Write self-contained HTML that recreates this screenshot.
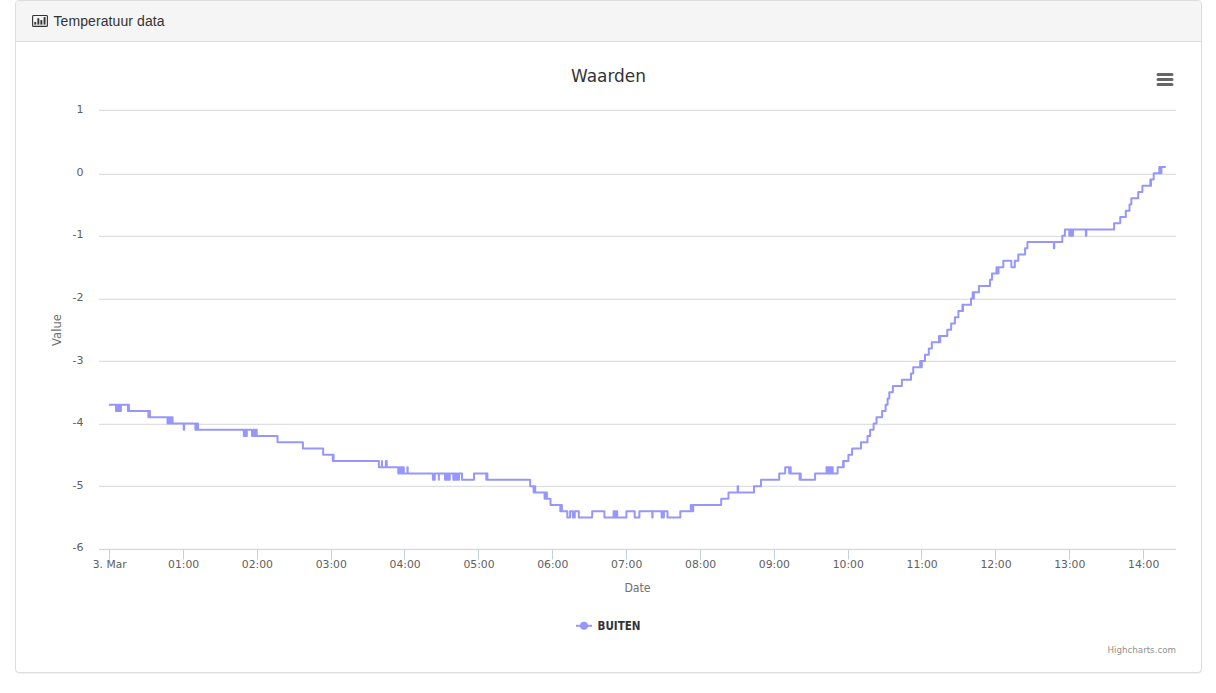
<!DOCTYPE html>
<html lang="nl">
<head>
<meta charset="utf-8">
<title>Temperatuur data</title>
<style>
html,body{margin:0;padding:0;background:#fff;}
body{width:1216px;height:693px;overflow:hidden;position:relative;font-family:"Liberation Sans",Arial,sans-serif;font-size:14px;line-height:20px;color:#333;}
.panel{position:absolute;left:15px;top:0;width:1187px;height:673px;box-sizing:border-box;background:#fff;border:1px solid #ddd;border-radius:4px;box-shadow:0 1px 1px rgba(0,0,0,.05);}
.heading{box-sizing:border-box;height:41px;padding:10px 15px;background:#f5f5f5;border-bottom:1px solid #ddd;border-radius:3px 3px 0 0;color:#333;white-space:nowrap;}
.ico{position:absolute;left:16px;top:14px;}
.heading span{position:absolute;left:37.4px;top:10px;letter-spacing:0.1px;}
.pbody{position:relative;height:630px;}
.chart{position:absolute;left:15px;top:15px;font-family:"DejaVu Sans","Liberation Sans",sans-serif;font-size:11px;}
</style>
</head>
<body>
<div class="panel">
<div class="heading"><svg class="ico" width="16" height="12" viewBox="0 0 16 12"><rect x="0.6" y="0.5" width="14.8" height="10.9" rx="1" ry="1" fill="none" stroke="#333" stroke-width="1.1"/><rect x="2.3" y="7.0" width="1.9" height="2.6" fill="#333"/><rect x="5.4" y="3.2" width="1.9" height="6.4" fill="#333"/><rect x="8.4" y="5.1" width="1.9" height="4.5" fill="#333"/><rect x="11.6" y="2.1" width="1.9" height="7.5" fill="#333"/></svg><span>Temperatuur data</span></div>
<div class="pbody">
<svg width="1155" height="600" viewBox="31 57 1155 600" class="chart">
<rect x="31" y="57" width="1155" height="600" fill="#ffffff"/>
<path d="M99 110.3H1176" stroke="#D8D8D8" stroke-width="1" fill="none"/>
<path d="M99 174.3H1176" stroke="#D8D8D8" stroke-width="1" fill="none"/>
<path d="M99 236.3H1176" stroke="#D8D8D8" stroke-width="1" fill="none"/>
<path d="M99 299.3H1176" stroke="#D8D8D8" stroke-width="1" fill="none"/>
<path d="M99 361.3H1176" stroke="#D8D8D8" stroke-width="1" fill="none"/>
<path d="M99 424.3H1176" stroke="#D8D8D8" stroke-width="1" fill="none"/>
<path d="M99 486.3H1176" stroke="#D8D8D8" stroke-width="1" fill="none"/>
<path d="M99 549.35H1176" stroke="#C0D0E0" stroke-width="1" fill="none"/>
<path d="M109.5 549.5V559.5" stroke="#C0D0E0" stroke-width="1" fill="none"/>
<path d="M183.5 549.5V559.5" stroke="#C0D0E0" stroke-width="1" fill="none"/>
<path d="M257.5 549.5V559.5" stroke="#C0D0E0" stroke-width="1" fill="none"/>
<path d="M331.5 549.5V559.5" stroke="#C0D0E0" stroke-width="1" fill="none"/>
<path d="M404.5 549.5V559.5" stroke="#C0D0E0" stroke-width="1" fill="none"/>
<path d="M478.5 549.5V559.5" stroke="#C0D0E0" stroke-width="1" fill="none"/>
<path d="M552.5 549.5V559.5" stroke="#C0D0E0" stroke-width="1" fill="none"/>
<path d="M626.5 549.5V559.5" stroke="#C0D0E0" stroke-width="1" fill="none"/>
<path d="M700.5 549.5V559.5" stroke="#C0D0E0" stroke-width="1" fill="none"/>
<path d="M774.5 549.5V559.5" stroke="#C0D0E0" stroke-width="1" fill="none"/>
<path d="M848.5 549.5V559.5" stroke="#C0D0E0" stroke-width="1" fill="none"/>
<path d="M921.5 549.5V559.5" stroke="#C0D0E0" stroke-width="1" fill="none"/>
<path d="M995.5 549.5V559.5" stroke="#C0D0E0" stroke-width="1" fill="none"/>
<path d="M1069.5 549.5V559.5" stroke="#C0D0E0" stroke-width="1" fill="none"/>
<path d="M1143.5 549.5V559.5" stroke="#C0D0E0" stroke-width="1" fill="none"/>
<path d="M109.7 404.78H116.0V411.04H116.98V404.78H117.96V411.04H118.94V404.78H119.92V411.04H120.9V404.78H127.9V411.04H128.4V404.78H128.9V411.04H148.4V417.3H149.15V411.04H149.9V417.3H167.5V423.56H168.35V417.3H169.2V423.56H170.05V417.3H170.9V423.56H171.75V417.3H172.6V423.56H183.7V429.81H184.1V423.56H195.4V429.81H196.7V423.56H198.0V429.81H243.8V436.07H244.8V429.81H245.8V436.07H246.8V429.81H252.0V436.07H253.18V429.81H254.35V436.07H255.52V429.81H256.7V436.07H277.5V442.33H302.9V448.58H323.15V454.84H332.8V461.1H333.2V454.84H333.6V461.1H378.9V467.35H382.0V461.1V467.35H385.9V461.1H386.7V467.35H398.3V473.61H399.22V467.35H400.13V473.61H401.05V467.35H401.97V473.61H402.88V467.35H403.8V473.61H407.4V467.35H407.7V473.61H432.9V479.87H434.8V473.61H438.85V479.87V473.61H445.0V479.87H445.95V473.61H446.9V479.87H447.85V473.61H448.8V479.87H449.75V473.61H453.3V479.87H454.44V473.61H455.58V479.87H456.72V473.61H457.86V479.87H459.0V473.61H461.95V479.87H474.0V473.61H486.3V479.87H486.85V473.61H487.4V479.87H530.15V486.13H533.6V492.38H534.4V486.13H535.2V492.38H544.6V498.64H545.75V492.38H546.9V498.64H550.5V504.9H560.3V511.15H561.1V504.9H561.9V511.15H567.3V517.41H570.1V511.15H572.9V517.41H574.8V511.15H578.8V517.41H592.2V511.15H604.4V517.41H613.6V511.15H614.9V517.41H615.9V511.15H617.2V517.41H626.4V511.15H634.7V517.41H639.4V511.15H652.25V517.41H652.55V511.15H661.6V517.41H662.37V511.15H663.13V517.41H663.9V511.15H667.5V517.41H680.3V511.15H690.8V504.9H692.0V511.15H693.2V504.9H721.2V498.64H728.5V492.38H737.65V486.13H738.05V492.38H754.0V486.13H761.0V479.87H779.2V473.61H785.2V467.35H789.2V473.61H789.95V467.35H790.7V473.61H799.6V479.87H800.15V473.61H800.7V479.87H815.1V473.61H826.5V467.35H827.39V473.61H828.27V467.35H829.16V473.61H830.04V467.35H830.93V473.61H831.81V467.35H832.7V473.61H837.6V467.35H843.1V461.1H843.4V467.35H843.7V461.1H848.4V454.84H852.1V448.58H861.0V442.33H867.5V436.07H870.1V429.81H873.6V423.56H876.5V417.3H882.1V411.04H885.6V404.78H887.6V398.53H889.3V392.27H892.9V386.01H901.9V379.76H911.0V373.5H913.2V367.24H920.2V360.98H921.0V367.24H921.8V360.98H925.0V354.73H928.8V348.47H931.8V342.21H939.0V335.96H939.6V342.21H940.2V335.96H947.3V329.7H951.15V323.44H954.9V317.18H958.4V310.93H962.4V304.67H962.7V310.93H963.0V304.67H971.0V298.41H972.7V292.16H973.3V298.41H973.9V292.16H978.9V285.9H990.0V279.64H992.0V273.38H996.5V267.13H997.5V273.38H998.5V267.13H1003.3V260.87H1011.4V267.13H1014.8V260.87H1018.3V254.61H1025.1V248.36H1027.4V242.1H1053.85V248.36H1054.25V242.1H1062.3V235.84H1064.9V229.58H1069.3V235.84H1070.53V229.58H1071.77V235.84H1073.0V229.58H1085.85V235.84H1086.35V229.58H1114.1V223.33H1120.25V217.07H1125.8V210.81H1129.5V204.56H1131.3V198.3H1138.2V192.04H1142.4V185.79H1150.35V179.53H1150.7V185.79H1151.05V179.53H1153.7V173.27H1159.3V167.01H1160.35V173.27H1161.4V167.01H1165.0" fill="none" stroke="#9797fb" stroke-width="2" stroke-linejoin="round" stroke-linecap="round"/>
<text x="608.5" y="81.7" text-anchor="middle" textLength="75" lengthAdjust="spacingAndGlyphs" style="font-size:18px;fill:#333333">Waarden</text>
<text x="83.5" y="113.2" text-anchor="end" fill="#606060">1</text>
<text x="83.5" y="175.8" text-anchor="end" fill="#606060">0</text>
<text x="83.5" y="238.3" text-anchor="end" fill="#606060">-1</text>
<text x="83.5" y="300.9" text-anchor="end" fill="#606060">-2</text>
<text x="83.5" y="363.5" text-anchor="end" fill="#606060">-3</text>
<text x="83.5" y="426.1" text-anchor="end" fill="#606060">-4</text>
<text x="83.5" y="488.6" text-anchor="end" fill="#606060">-5</text>
<text x="83.5" y="551.2" text-anchor="end" fill="#606060">-6</text>
<text x="109.7" y="567.6" text-anchor="middle" textLength="33.8" lengthAdjust="spacingAndGlyphs" fill="#606060">3. Mar</text>
<text x="183.6" y="567.6" text-anchor="middle" textLength="31.2" lengthAdjust="spacingAndGlyphs" fill="#606060">01:00</text>
<text x="257.4" y="567.6" text-anchor="middle" textLength="31.2" lengthAdjust="spacingAndGlyphs" fill="#606060">02:00</text>
<text x="331.3" y="567.6" text-anchor="middle" textLength="31.2" lengthAdjust="spacingAndGlyphs" fill="#606060">03:00</text>
<text x="405.1" y="567.6" text-anchor="middle" textLength="31.2" lengthAdjust="spacingAndGlyphs" fill="#606060">04:00</text>
<text x="479.0" y="567.6" text-anchor="middle" textLength="31.2" lengthAdjust="spacingAndGlyphs" fill="#606060">05:00</text>
<text x="552.8" y="567.6" text-anchor="middle" textLength="31.2" lengthAdjust="spacingAndGlyphs" fill="#606060">06:00</text>
<text x="626.7" y="567.6" text-anchor="middle" textLength="31.2" lengthAdjust="spacingAndGlyphs" fill="#606060">07:00</text>
<text x="700.6" y="567.6" text-anchor="middle" textLength="31.2" lengthAdjust="spacingAndGlyphs" fill="#606060">08:00</text>
<text x="774.4" y="567.6" text-anchor="middle" textLength="31.2" lengthAdjust="spacingAndGlyphs" fill="#606060">09:00</text>
<text x="848.3" y="567.6" text-anchor="middle" textLength="31.2" lengthAdjust="spacingAndGlyphs" fill="#606060">10:00</text>
<text x="922.1" y="567.6" text-anchor="middle" textLength="31.2" lengthAdjust="spacingAndGlyphs" fill="#606060">11:00</text>
<text x="996.0" y="567.6" text-anchor="middle" textLength="31.2" lengthAdjust="spacingAndGlyphs" fill="#606060">12:00</text>
<text x="1069.8" y="567.6" text-anchor="middle" textLength="31.2" lengthAdjust="spacingAndGlyphs" fill="#606060">13:00</text>
<text x="1143.7" y="567.6" text-anchor="middle" textLength="31.2" lengthAdjust="spacingAndGlyphs" fill="#606060">14:00</text>
<text x="637.5" y="591.6" text-anchor="middle" textLength="26.2" lengthAdjust="spacingAndGlyphs" style="font-size:12px;fill:#707070">Date</text>
<text x="60.8" y="330" text-anchor="middle" textLength="32" lengthAdjust="spacingAndGlyphs" transform="rotate(270 60.8 330)" style="font-size:12px;fill:#707070">Value</text>
<path d="M576 625.8H592" stroke="#9797fb" stroke-width="2" fill="none"/>
<circle cx="584" cy="625.8" r="4" fill="#9797fb"/>
<text x="597.5" y="629.7" textLength="43" lengthAdjust="spacingAndGlyphs" style="font-size:12px;font-weight:bold;fill:#333333">BUITEN</text>
<text x="1176" y="652.6" text-anchor="end" textLength="68.5" lengthAdjust="spacingAndGlyphs" style="font-size:9px;fill:#909090">Highcharts.com</text>
<path d="M1158 74.5H1172M1158 79.5H1172M1158 84.5H1172" stroke="#666666" stroke-width="3" stroke-linecap="round" fill="none"/>
</svg>
</div>
</div>
</body>
</html>
